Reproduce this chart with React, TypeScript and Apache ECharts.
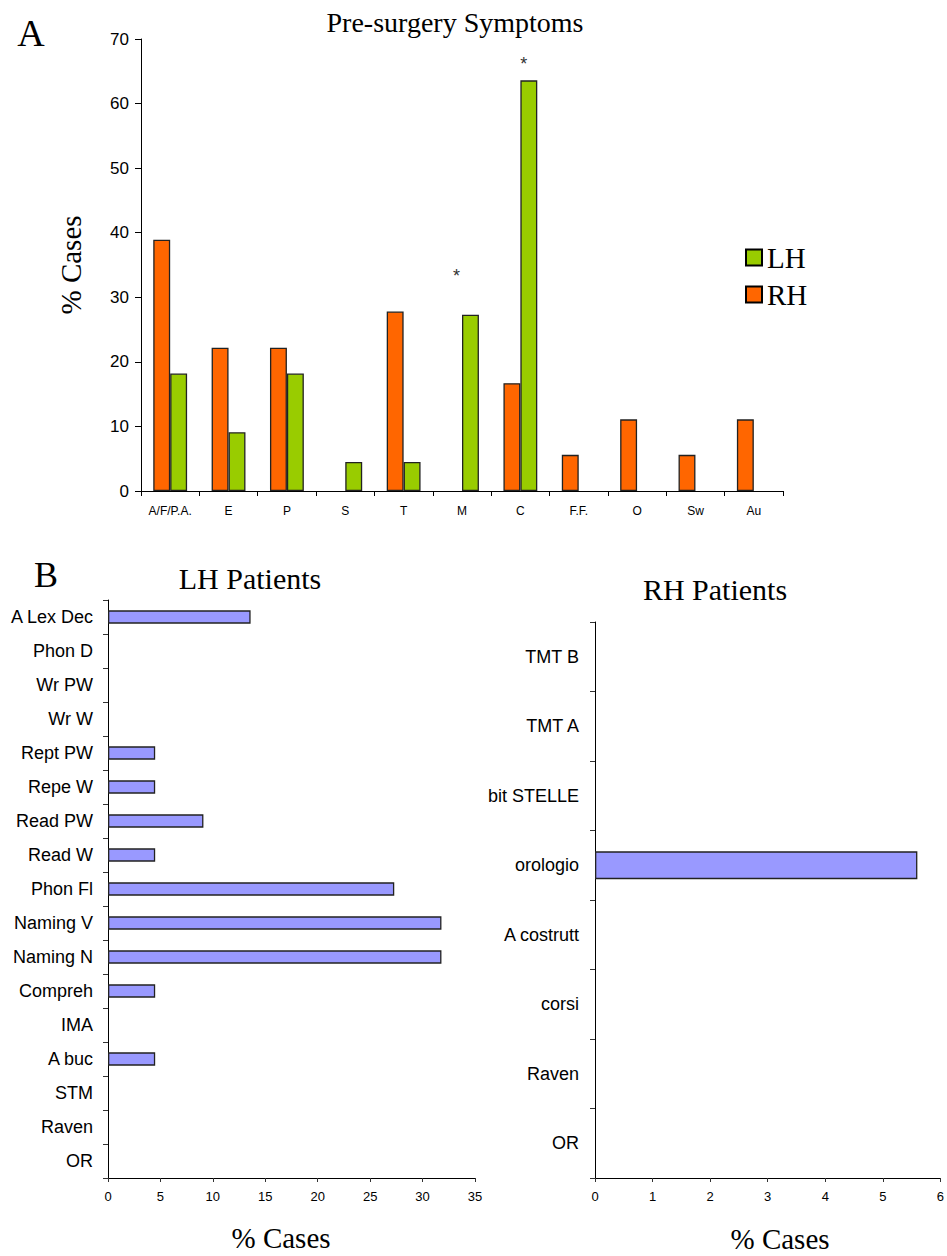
import React, { useEffect, useRef } from 'react';
import * as echarts from 'echarts';

const symptomCategories = ['A/F/P.A.', 'E', 'P', 'S', 'T', 'M', 'C', 'F.F.', 'O', 'Sw', 'Au'];
const rhSymptoms = [38.9, 22.2, 22.2, 0, 27.8, 0, 16.7, 5.6, 11.1, 5.6, 11.1];
const lhSymptoms = [18.2, 9.1, 18.2, 4.5, 4.5, 27.3, 63.6, 0, 0, 0, 0];
const lhStars = ['', '', '', '', '', '*', '*', '', '', '', ''];

const lhTests = ['A Lex Dec', 'Phon D', 'Wr PW', 'Wr W', 'Rept PW', 'Repe W', 'Read PW', 'Read W', 'Phon Fl', 'Naming V', 'Naming N', 'Compreh', 'IMA', 'A buc', 'STM', 'Raven', 'OR'];
const lhTestValues = [13.6, 0, 0, 0, 4.5, 4.5, 9.1, 4.5, 27.3, 31.8, 31.8, 4.5, 0, 4.5, 0, 0, 0];

const rhTests = ['TMT B', 'TMT A', 'bit STELLE', 'orologio', 'A costrutt', 'corsi', 'Raven', 'OR'];
const rhTestValues = [0, 0, 0, 5.6, 0, 0, 0, 0];

const SERIF = '"Liberation Serif", "Times New Roman", serif';
const SANS = '"Liberation Sans", Arial, sans-serif';

const starStyle: Record<string, { distance: number; offset: number[] }> = {
  M: { distance: 30, offset: [-14, 0] },
  C: { distance: 7, offset: [-5, 0] },
};

const hideZero = (v: number) => (v === 0 ? '-' : v);

export default function App() {
  const ref = useRef<HTMLDivElement>(null);
  useEffect(() => {
    document.body.style.margin = '0';
    if (!ref.current) return;
    const chart = echarts.init(ref.current, undefined, { renderer: 'svg' });

    const lhData = lhSymptoms.map((v, i) => {
      const star = lhStars[i];
      if (!star) return hideZero(v);
      const st = starStyle[symptomCategories[i]] || { distance: 8, offset: [0, 0] };
      return {
        value: v,
        label: {
          show: true,
          formatter: star,
          position: 'top',
          distance: st.distance,
          offset: st.offset,
          fontSize: 18,
          fontFamily: SANS,
          color: '#333',
        },
      };
    });

    const axisLine = { show: true, lineStyle: { color: '#000', width: 1 } };
    const barBorder = { borderColor: '#222', borderWidth: 1.3 };

    const option: any = {
      animation: false,
      backgroundColor: '#fff',
      graphic: [
        { type: 'text', x: 31, y: 33, style: { text: 'A', font: `38px ${SERIF}`, fill: '#000', textAlign: 'center', textVerticalAlign: 'middle' } },
        { type: 'text', x: 455, y: 22, style: { text: 'Pre-surgery Symptoms', font: `28px ${SERIF}`, fill: '#000', textAlign: 'center', textVerticalAlign: 'middle' } },
        { type: 'text', x: 46, y: 575, style: { text: 'B', font: `36px ${SERIF}`, fill: '#000', textAlign: 'center', textVerticalAlign: 'middle' } },
        { type: 'text', x: 250, y: 578, style: { text: 'LH Patients', font: `30px ${SERIF}`, fill: '#000', textAlign: 'center', textVerticalAlign: 'middle' } },
        { type: 'text', x: 715, y: 589, style: { text: 'RH Patients', font: `30px ${SERIF}`, fill: '#000', textAlign: 'center', textVerticalAlign: 'middle' } },
        { type: 'text', x: 281, y: 1238, style: { text: '% Cases', font: `29px ${SERIF}`, fill: '#000', textAlign: 'center', textVerticalAlign: 'middle' } },
        { type: 'text', x: 780, y: 1239, style: { text: '% Cases', font: `29px ${SERIF}`, fill: '#000', textAlign: 'center', textVerticalAlign: 'middle' } },
      ],
      legend: {
        data: ['LH', 'RH'],
        orient: 'vertical',
        left: 740,
        top: 238,
        itemWidth: 16,
        itemHeight: 16,
        itemGap: 8,
        icon: 'rect',
        itemStyle: { borderColor: '#000', borderWidth: 2 },
        textStyle: { fontFamily: SERIF, fontSize: 29, color: '#000' },
      },
      grid: [
        { left: 141, top: 39, width: 642, height: 452 },
        { left: 108, top: 600, width: 367, height: 578 },
        { left: 595, top: 622, width: 351, height: 556 },
      ],
      xAxis: [
        {
          gridIndex: 0,
          type: 'category',
          data: symptomCategories,
          axisLine,
          axisTick: { show: true, length: 5, lineStyle: { color: '#000' } },
          axisLabel: { interval: 0, fontFamily: SANS, fontSize: 12, color: '#000', margin: 14 },
        },
        {
          gridIndex: 1,
          type: 'value',
          min: 0,
          max: 35,
          interval: 5,
          splitLine: { show: false },
          axisLine,
          axisTick: { show: true, length: 4, lineStyle: { color: '#333' } },
          axisLabel: { fontFamily: SANS, fontSize: 13, color: '#000', margin: 12 },
        },
        {
          gridIndex: 2,
          type: 'value',
          min: 0,
          max: 6,
          interval: 1,
          splitLine: { show: false },
          axisLine,
          axisTick: { show: true, length: 4, lineStyle: { color: '#333' } },
          axisLabel: { fontFamily: SANS, fontSize: 13, color: '#000', margin: 12 },
        },
      ],
      yAxis: [
        {
          gridIndex: 0,
          type: 'value',
          min: 0,
          max: 70,
          interval: 10,
          splitLine: { show: false },
          axisLine,
          axisTick: { show: true, length: 6, lineStyle: { color: '#000' } },
          axisLabel: { fontFamily: SANS, fontSize: 17, color: '#000', margin: 12 },
          name: '% Cases',
          nameLocation: 'middle',
          nameRotate: 90,
          nameGap: 56,
          nameTextStyle: { fontFamily: SERIF, fontSize: 29, color: '#000' },
        },
        {
          gridIndex: 1,
          type: 'category',
          inverse: true,
          data: lhTests,
          axisLine,
          axisTick: { show: true, length: 5, lineStyle: { color: '#333' } },
          axisLabel: { interval: 0, fontFamily: SANS, fontSize: 18, color: '#000', margin: 15 },
        },
        {
          gridIndex: 2,
          type: 'category',
          inverse: true,
          data: rhTests,
          axisLine,
          axisTick: { show: true, length: 5, lineStyle: { color: '#333' } },
          axisLabel: { interval: 0, fontFamily: SANS, fontSize: 18, color: '#000', margin: 16 },
        },
      ],
      series: [
        {
          name: 'RH',
          type: 'bar',
          xAxisIndex: 0,
          yAxisIndex: 0,
          data: rhSymptoms.map(hideZero),
          barGap: '0%',
          barCategoryGap: '42%',
          itemStyle: { color: '#FF6600', ...barBorder },
        },
        {
          name: 'LH',
          type: 'bar',
          xAxisIndex: 0,
          yAxisIndex: 0,
          data: lhData,
          barGap: '0%',
          barCategoryGap: '42%',
          itemStyle: { color: '#99CC00', ...barBorder },
        },
        {
          name: 'LH tests',
          type: 'bar',
          xAxisIndex: 1,
          yAxisIndex: 1,
          data: lhTestValues.map(hideZero),
          barCategoryGap: '61%',
          itemStyle: { color: '#9999FF', ...barBorder },
        },
        {
          name: 'RH tests',
          type: 'bar',
          xAxisIndex: 2,
          yAxisIndex: 2,
          data: rhTestValues.map(hideZero),
          barCategoryGap: '60%',
          itemStyle: { color: '#9999FF', ...barBorder },
        },
      ],
    };

    chart.setOption(option);
    return () => chart.dispose();
  }, []);

  return <div ref={ref} style={{ width: 947, height: 1256 }} />;
}
